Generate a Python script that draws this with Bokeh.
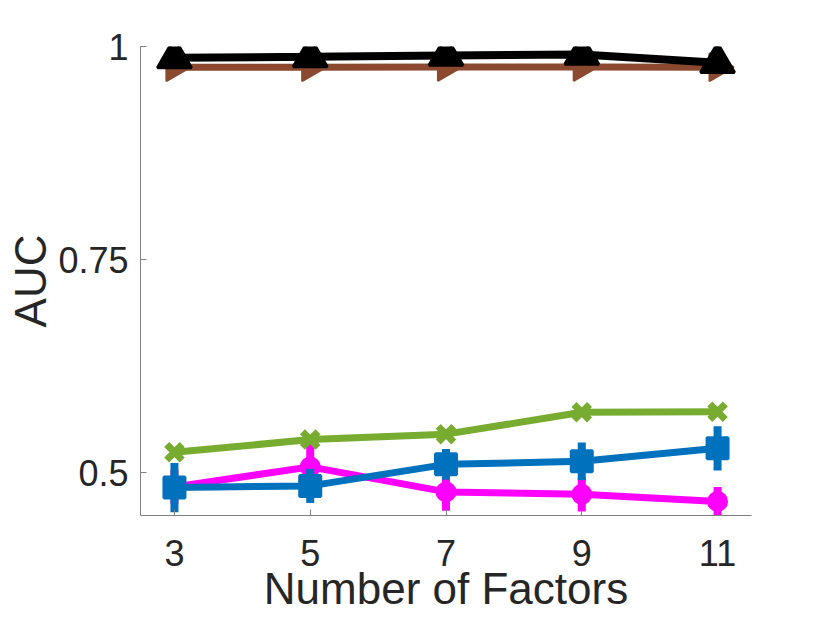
from bokeh.plotting import figure
from bokeh.models import FixedTicker, Range1d, CustomJSTickFormatter
from bokeh.embed import file_html
from bokeh.resources import INLINE
import math

# ---- data ----
factors = [3, 5, 7, 9, 11]
black_auc = [0.9867, 0.9879, 0.9894, 0.9906, 0.9809]
brown_auc = [0.9757, 0.9757, 0.9760, 0.9760, 0.9757]
green_auc = [0.5241, 0.5390, 0.5454, 0.5710, 0.5716]
blue_auc = [0.4827, 0.4847, 0.5100, 0.5135, 0.5288]
blue_err = [0.029, 0.020, 0.018, 0.022, 0.026]
magenta_auc = [0.4836, 0.5070, 0.4777, 0.4748, 0.4665]
magenta_err = [0.020, 0.036, 0.022, 0.020, 0.017]

x_ticks = [3, 5, 7, 9, 11]
y_ticks = [0.5, 0.75, 1.0]
x_label = "Number of Factors"
y_label = "AUC"

FONT = "Liberation Sans"
AXIS_GRAY = "#808080"
TEXT = "#262626"

p = figure(width=830, height=623, output_backend="svg", toolbar_location=None,
           x_range=Range1d(2.5, 11.5), y_range=Range1d(0.45, 1.0),
           min_border_left=140, min_border_right=79, min_border_top=46,
           min_border_bottom=108)
p.outline_line_color = None
p.xgrid.visible = False
p.ygrid.visible = False
p.background_fill_color = "white"
p.border_fill_color = "white"

for ax in (p.xaxis[0], p.yaxis[0]):
    ax.axis_line_color = AXIS_GRAY
    ax.axis_line_width = 1
    ax.major_tick_line_color = AXIS_GRAY
    ax.major_tick_in = 6
    ax.major_tick_out = 0
    ax.minor_tick_line_color = None
    ax.major_label_text_font = FONT
    ax.major_label_text_font_size = "36px"
    ax.major_label_text_color = TEXT
    ax.axis_label_text_font = FONT
    ax.axis_label_text_font_size = "44px"
    ax.axis_label_text_font_style = "normal"
    ax.axis_label_text_color = TEXT

p.xaxis.ticker = FixedTicker(ticks=x_ticks)
p.yaxis.ticker = FixedTicker(ticks=y_ticks)
p.yaxis.formatter = CustomJSTickFormatter(code="return String(tick)")
p.xaxis.axis_label = x_label
p.yaxis.axis_label = y_label
p.xaxis.major_label_standoff = 24
p.xaxis.axis_label_standoff = -5
p.yaxis.major_label_standoff = 12
p.yaxis.axis_label_standoff = 0

LW = 7

# magenta with error bars
mag_lo = [v - e for v, e in zip(magenta_auc, magenta_err)]
mag_hi = [v + e for v, e in zip(magenta_auc, magenta_err)]
p.line(factors, magenta_auc, line_color="#FF00FF", line_width=LW)
p.segment(factors, mag_lo, factors, mag_hi, line_color="#FF00FF", line_width=8)
p.scatter(factors, magenta_auc, marker="circle", size=19, fill_color="#FF00FF",
          line_color="#FF00FF", line_width=2)

# blue with error bars
blu_lo = [v - e for v, e in zip(blue_auc, blue_err)]
blu_hi = [v + e for v, e in zip(blue_auc, blue_err)]
p.line(factors, blue_auc, line_color="#0072BD", line_width=LW)
p.segment(factors, blu_lo, factors, blu_hi, line_color="#0072BD", line_width=8)
p.scatter(factors, blue_auc, marker="square", size=21, fill_color="#0072BD",
          line_color="#0072BD", line_width=3)

# green
p.line(factors, green_auc, line_color="#77AC30", line_width=LW)
p.scatter(factors, green_auc, marker="x", size=22, line_color="#77AC30", line_width=7)

# brown
p.line(factors, brown_auc, line_color="#8B4A30", line_width=LW)
p.scatter(factors, brown_auc, marker="triangle", size=28, angle=-math.pi / 2,
          fill_color="#8B4A30", line_color="#8B4A30", line_width=2)

# black
p.line(factors, black_auc, line_color="black", line_width=8)
p.scatter(factors, black_auc, marker="triangle", size=34, fill_color="black",
          line_color="black", line_width=3)

open("out.html", "w").write(file_html(p, INLINE))
